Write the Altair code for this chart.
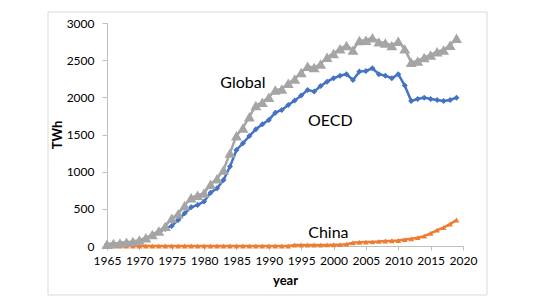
import altair as alt
import pandas as pd

years = list(range(1965, 2020))

global_twh = [25, 34, 40, 52, 61, 80, 111, 154, 203, 264,
              373, 434, 546, 648, 684, 712, 831, 905, 1024, 1250,
              1484, 1589, 1739, 1890, 1933, 2001, 2098, 2111, 2189, 2247,
              2334, 2418, 2400, 2447, 2540, 2591, 2655, 2698, 2635, 2764,
              2768, 2803, 2746, 2732, 2697, 2756, 2652, 2472, 2490, 2536,
              2570, 2613, 2636, 2701, 2796]

oecd_twh = [22, 30, 36, 46, 55, 72, 100, 140, 185, 230,
            270, 350, 440, 520, 552, 597, 718, 776, 888, 1068,
            1292, 1382, 1480, 1570, 1638, 1696, 1794, 1830, 1898, 1956,
            2023, 2100, 2077, 2153, 2211, 2257, 2292, 2311, 2234, 2346,
            2355, 2391, 2311, 2292, 2257, 2311, 2158, 1951, 1978, 1996,
            1978, 1965, 1951, 1965, 1996]

china_twh = [0] * 29 + [14, 13, 14, 14, 14, 15, 17, 18, 25, 43,
                        51, 53, 55, 62, 68, 70, 74, 86, 97, 112,
                        133, 171, 213, 248, 295, 349]

label_names = ["Global", "OECD", "China"]
label_years = [1986, 1999.5, 1999.2]
label_values = [2190, 1680, 175]

x_ticks = [1965, 1970, 1975, 1980, 1985, 1990, 1995, 2000, 2005, 2010, 2015, 2020]
y_ticks = [0, 500, 1000, 1500, 2000, 2500, 3000]

FONT = "Lato"

x_scale = alt.Scale(domain=[1965, 2020], nice=False, zero=False)
y_scale = alt.Scale(domain=[0, 3000], nice=False)

x_axis = alt.Axis(values=x_ticks, format="d", title="year",
                  tickSize=4, labelPadding=5, titlePadding=8)
y_axis = alt.Axis(values=y_ticks, format="d", title="TWh",
                  tickSize=5, labelPadding=8, titlePadding=2)

df_g = pd.DataFrame({"year": years, "twh": global_twh})
df_o = pd.DataFrame({"year": years, "twh": oecd_twh})
df_c = pd.DataFrame({"year": years, "twh": china_twh})
df_l = pd.DataFrame({"name": label_names, "year": label_years, "twh": label_values})


def series(df, color, shape, size, width):
    return alt.Chart(df).mark_line(
        color=color, strokeWidth=width,
        point=alt.OverlayMarkDef(shape=shape, size=size, color=color, filled=True, opacity=1)
    ).encode(
        x=alt.X("year:Q", scale=x_scale, axis=x_axis),
        y=alt.Y("twh:Q", scale=y_scale, axis=y_axis),
    )


frame = alt.Chart(pd.DataFrame({"a": [0]})).mark_rect(
    x=-59, x2=380, y=-11, y2=272,
    fill="#ffffff", fillOpacity=0, stroke="#d9d9d9", strokeWidth=1, strokeOpacity=1
).encode(opacity=alt.value(1))

china = series(df_c, "#ED7D31", "triangle-up", 32, 2.5)
oecd = series(df_o, "#4472C4", "diamond", 36, 2.5)
glob = series(df_g, "#A5A5A5", "triangle-up", 120, 2.5)

labels = alt.Chart(df_l).mark_text(font=FONT, fontSize=16, color="#000000").encode(
    x=alt.X("year:Q", scale=x_scale, axis=x_axis),
    y=alt.Y("twh:Q", scale=y_scale, axis=y_axis),
    text="name:N",
)

chart = alt.layer(frame, china, oecd, glob, labels).properties(
    width=356, height=223,
    autosize=alt.AutoSizeParams(type="none"),
    padding={"left": 99, "top": 15, "right": 70, "bottom": 60},
    background="#ffffff",
).configure_view(
    stroke=None
).configure_axis(
    grid=False, labelFlush=False, labelOverlap=False,
    domainColor="#bfbfbf", tickColor="#bfbfbf",
    labelFontSize=12, labelColor="#000000", labelFont=FONT,
    titleFont=FONT, titleFontSize=13, titleFontWeight="bold", titleColor="#000000",
)

chart.save("out.html", embed_options={"renderer": "svg", "actions": False})
